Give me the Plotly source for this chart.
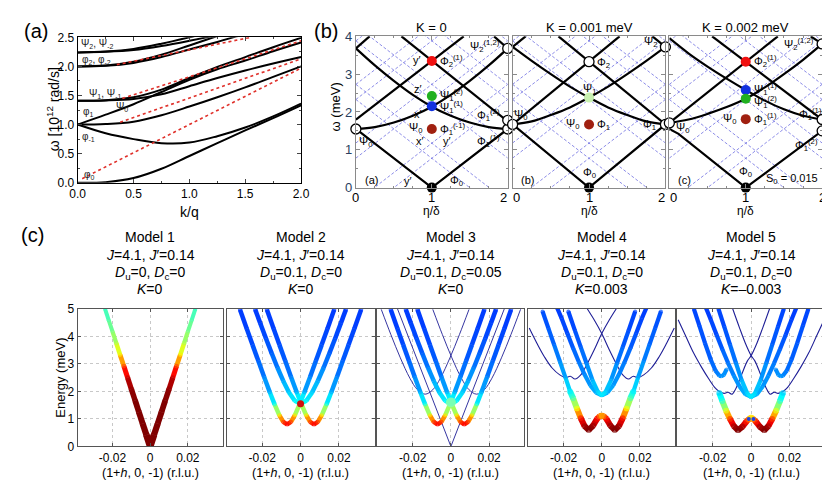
import plotly.graph_objects as go
from plotly.colors import sample_colorscale

W, H = 830, 494
FONT = "Liberation Sans, Arial, sans-serif"

# ====================== Panel (a) data ======================
a_k = [0, 0.25, 0.5, 0.75, 1.0, 1.25, 1.5, 1.75, 2.0]
a_phi0 = [0, 0.01, 0.08, 0.24, 0.46, 0.68, 0.9, 1.11, 1.33]
a_phim1 = [1.0, 0.85, 0.75, 0.68, 0.69, 0.8, 0.95, 1.14, 1.36]
a_psi0 = [1.0, 1.01, 1.05, 1.16, 1.31, 1.47, 1.64, 1.82, 2.0]
a_phi1 = [1.0, 1.17, 1.35, 1.56, 1.77, 1.95, 2.1, 2.26, 2.41]
a_psi1 = [1.41, 1.42, 1.47, 1.6, 1.8, 1.99, 2.16, 2.33, 2.49]
a_psim1 = [1.41, 1.415, 1.44, 1.52, 1.66, 1.8, 1.93, 2.05, 2.16]
a_phi2 = [2.0, 2.01, 2.06, 2.16, 2.29, 2.42, 2.56, 2.7, 2.85]
a_phim2 = [2.0, 2.015, 2.08, 2.2, 2.36, 2.52, 2.68, 2.84, 3.0]
a_psi2 = [2.24, 2.25, 2.28, 2.35, 2.44, 2.54, 2.65, 2.77, 2.9]
a_psim2 = [2.24, 2.255, 2.3, 2.39, 2.5, 2.62, 2.75, 2.88, 3.0]
a_curves = [a_phi0, a_phim1, a_psi0, a_phi1, a_psi1, a_psim1, a_phi2, a_phim2, a_psi2, a_psim2]
a_dot_k = [[0.04, 2.0], [0.38, 2.0], [0.4, 2.0], [0.35, 1.55]]
a_dot_w = [[0.07, 1.97], [1.04, 2.13], [1.45, 2.44], [2.03, 2.5]]
a_labels = [("Ψ<sub>2</sub>, Ψ<sub>-2</sub>", 0.18, 2.39), ("φ<sub>2</sub>, φ<sub>-2</sub>", 0.17, 2.11),
            ("Ψ<sub>1</sub>, Ψ<sub>-1</sub>", 0.25, 1.53), ("φ<sub>1</sub>", 0.09, 1.22),
            ("Ψ<sub>0</sub>", 0.4, 1.31), ("φ<sub>-1</sub>", 0.1, 0.79), ("φ<sub>0</sub>", 0.1, 0.14)]

# ====================== Panel (b) data ======================
b_eta9 = [0, 0.25, 0.5, 0.75, 1, 1.25, 1.5, 1.75, 2]
b_xticks = [0, 1, 2]
# subpanel 1 (K = 0)
b1_lines = [
    ([0, 1, 2], [1.55, 0, 1.55]),
    (b_eta9, [1.55, 1.6, 1.72, 1.9, 2.14, 2.45, 2.82, 3.23, 3.68]),
    (b_eta9, [3.68, 3.23, 2.82, 2.45, 2.14, 1.9, 1.72, 1.6, 1.55]),
    ([0, 1.42], [1.8, 4.0]), ([2, 0.6], [1.75, 4.0]),
    ([0, 0.18], [3.68, 4.0]), ([2, 1.82], [3.68, 4.0])]
b1_dots = [(1, 3.35, "#f01010"), (1, 2.42, "#20b020"), (1, 2.15, "#1030e0"), (1, 1.55, "#a02010"), (1, 0.0, "#000000")]
b1_open = [(0, 1.55), (2, 1.55), (2, 1.78), (2, 3.68)]
b1_labels = [("y′", 0.89, 3.38, "right"), ("Φ<sub>2</sub><sup>(1)</sup>", 1.08, 3.36, "left"),
             ("z′", 0.9, 2.62, "right"), ("Ψ<sub>1</sub><sup>(2)</sup>", 1.08, 2.45, "left"),
             ("x′", 0.9, 1.95, "right"), ("Ψ<sub>1</sub><sup>(1)</sup>", 1.08, 2.12, "left"),
             ("Ψ<sub>0</sub>", 0.9, 1.58, "right"), ("Φ<sub>1</sub><sup>(-1)</sup>", 1.08, 1.56, "left"),
             ("x′", 0.93, 1.22, "right"), ("y′", 1.2, 1.22, "center"), ("Ψ<sub>0</sub>", 0.12, 1.2, "center"),
             ("Φ<sub>1</sub><sup>(1)</sup>", 1.75, 1.24, "center"), ("Φ<sub>1</sub><sup>(2)</sup>", 1.75, 1.92, "center"),
             ("Ψ<sub>2</sub><sup>(1,2)</sup>", 1.92, 3.75, "right"), ("(a)", 0.2, 0.2, "center"),
             ("y′", 0.68, 0.18, "center"), ("Φ<sub>0</sub>", 1.32, 0.18, "center")]
# subpanel 2 (K = 0.001 meV)
b2_lines = [
    ([0, 1, 2], [1.67, 0, 1.67]),
    (b_eta9, [1.67, 1.75, 1.92, 2.12, 2.38, 2.67, 3.0, 3.35, 3.72]),
    (b_eta9, [3.72, 3.35, 3.0, 2.67, 2.38, 2.12, 1.92, 1.75, 1.67]),
    ([0, 1.4], [1.67, 4.0]), ([2, 0.6], [1.67, 4.0]),
    ([0, 0.17], [3.72, 4.0]), ([2, 1.83], [3.72, 4.0])]
b2_dots = [(1, 2.38, "#c8f0b0"), (1, 1.67, "#a02010"), (1, 0.0, "#000000")]
b2_open = [(0, 1.67), (2, 1.67), (1, 3.33), (2, 3.72)]
b2_labels = [("Ψ<sub>0</sub>", 0.1, 1.92, "center"), ("Φ<sub>2</sub>", 1.08, 3.3, "left"),
             ("Ψ<sub>1</sub>", 1.0, 2.62, "center"), ("Ψ<sub>0</sub>", 0.9, 1.68, "right"),
             ("Φ<sub>1</sub>", 1.08, 1.66, "left"), ("Φ<sub>1</sub>", 1.9, 1.66, "right"),
             ("Ψ<sub>2</sub>", 1.92, 3.85, "right"), ("Φ<sub>0</sub>", 1.0, 0.38, "center"),
             ("(b)", 0.2, 0.2, "center")]
# subpanel 3 (K = 0.002 meV)
b3_lines = [
    ([0, 0.12, 1, 2], [1.55, 1.42, 0, 1.5]),
    (b_eta9, [1.71, 1.8, 1.95, 2.13, 2.35, 2.65, 3.0, 3.38, 3.8]),
    (b_eta9, [3.95, 3.55, 3.2, 2.88, 2.58, 2.3, 2.07, 1.9, 1.8]),
    ([0, 1.42], [1.71, 4.0]), ([2, 0.56], [1.8, 4.0]),
    ([2, 1.85], [3.8, 4.0])]
b3_dots = [(1, 3.33, "#f01010"), (1, 2.58, "#1030e0"), (1, 2.35, "#20b020"), (1, 1.81, "#a02010"), (1, 0.0, "#000000")]
b3_open = [(0, 1.71), (2, 1.8), (2, 1.5), (2, 3.8)]
b3_labels = [("Ψ<sub>2</sub><sup>(1,2)</sup>", 1.92, 3.8, "right"), ("Φ<sub>2</sub><sup>(1)</sup>", 1.08, 3.36, "left"),
             ("Ψ<sub>1</sub><sup>(1)</sup>", 1.08, 2.62, "left"), ("Ψ<sub>1</sub><sup>(2)</sup>", 1.08, 2.27, "left"),
             ("Ψ<sub>0</sub>", 0.9, 1.82, "right"), ("Φ<sub>1</sub><sup>(1)</sup>", 1.08, 1.82, "left"),
             ("Ψ<sub>0</sub>", 0.17, 1.58, "center"), ("Φ<sub>1</sub><sup>(1)</sup>", 1.85, 1.94, "center"),
             ("Φ<sub>1</sub><sup>(2)</sup>", 1.8, 1.12, "center"), ("Φ<sub>0</sub>", 1.0, 0.42, "center"),
             ("(c)", 0.2, 0.2, "center"), ("S<sub>0</sub> = 0.015", 1.6, 0.22, "center")]
# blue dashed (unperturbed folded branches), endpoints [eta0, w0, eta1, w1]
b_dashed = [[0, -0.78, 2, 2.33], [0, 0.78, 2, 3.88], [0, 2.33, 2, 5.43], [0, 3.88, 2, 6.98],
            [0, 2.33, 2, -0.78], [0, 3.88, 2, 0.78], [0, 5.43, 2, 2.33], [0, 6.98, 2, 3.88],
            [0, -0.38, 2, 2.73], [0, 1.18, 2, 4.28], [0, 2.73, 2, 5.83],
            [0, 2.73, 2, -0.38], [0, 4.28, 2, 1.18], [0, 5.83, 2, 2.73]]
b_titles = ["K = 0", "K = 0.001 meV", "K = 0.002 meV"]

# ====================== Panel (c) data ======================
m1_x = [0, 0.002, 0.004, 0.006, 0.008, 0.010, 0.012, 0.014, 0.016, 0.018, 0.020, 0.022, 0.024]
m1_E = [0, 0.42, 0.83, 1.25, 1.67, 2.08, 2.5, 2.92, 3.33, 3.75, 4.17, 4.58, 5.0]
m1_v = [1, 1, 1, 1, 1, 0.98, 0.93, 0.8, 0.64, 0.55, 0.5, 0.46, 0.43]
m1_w = [7, 6.5, 6, 6, 5.5, 5.5, 5, 5, 4.5, 4.5, 4, 4, 4]

m2_well_x = [-0.0315, -0.028, -0.025, -0.022, -0.019, -0.016, -0.0135, -0.011, -0.009, -0.007,
             -0.005, -0.003, -0.0005, 0.002, 0.005, 0.008, 0.011, 0.014, 0.0175]
m2_well_E = [4.97, 4.28, 3.69, 3.11, 2.53, 1.97, 1.53, 1.13, 0.89, 0.8, 0.89, 1.13, 1.53, 1.97, 2.53, 3.11, 3.69, 4.28, 4.97]
m2_well_v = [0.18, 0.19, 0.2, 0.22, 0.25, 0.3, 0.4, 0.65, 0.82, 0.87, 0.82, 0.65, 0.42, 0.3, 0.25, 0.22, 0.2, 0.19, 0.18]
m2_c_x = [0, 0.003, 0.006, 0.009, 0.012, 0.015, 0.018, 0.021, 0.0236]
m2_c_E = [1.55, 1.66, 1.96, 2.38, 2.86, 3.38, 3.92, 4.48, 4.97]
m2_c_v = [0.4, 0.37, 0.33, 0.29, 0.25, 0.22, 0.2, 0.19, 0.18]

m3_well_x, m3_well_E, m3_well_v = m2_well_x, m2_well_E, m2_well_v
m3_c_x, m3_c_E, m3_c_v = m2_c_x, m2_c_E, m2_c_v
m3_thinV_x = [-0.028, 0, 0.028]
m3_thinV_E = [5.0, 0, 5.0]
m3_thinL_x = [-0.0365, -0.0315, -0.0265, -0.0215, -0.0175, -0.0135, -0.0095, -0.0055, -0.0005, 0.0045, 0.0095]
m3_thinL_E = [4.98, 4.07, 3.22, 2.48, 2.06, 1.9, 2.06, 2.48, 3.22, 4.07, 4.98]

m4_well_x = [-0.0166, -0.015, -0.013, -0.011, -0.009, -0.0068, -0.0045, -0.0025, -0.001, 0]
m4_well_E = [2.0, 1.75, 1.38, 1.03, 0.74, 0.6, 0.76, 1.0, 1.1, 1.12]
m4_well_v = [0.36, 0.45, 0.62, 0.85, 0.97, 1.0, 0.97, 0.87, 0.76, 0.72]
m4_out_x = [-0.0166, -0.019, -0.022, -0.025, -0.028, -0.031]
m4_out_E = [2.0, 2.5, 3.1, 3.7, 4.3, 4.9]
m4_out_v = [0.36, 0.3, 0.26, 0.23, 0.21, 0.2]
m4_U_x = [0, 0.002, 0.005, 0.008, 0.011, 0.014, 0.0175]
m4_U_E = [1.86, 1.98, 2.43, 3.02, 3.61, 4.2, 4.9]
m4_U_v = [0.36, 0.34, 0.29, 0.25, 0.22, 0.2, 0.19]
m4_c_x = [0, 0.003, 0.006, 0.009, 0.012, 0.015, 0.018, 0.021, 0.0235]
m4_c_E = [1.86, 1.96, 2.22, 2.61, 3.07, 3.57, 4.1, 4.65, 5.05]
m4_c_v = [0.3, 0.3, 0.28, 0.26, 0.24, 0.22, 0.2, 0.19, 0.18]
m4_thinL_x = [-0.038, -0.034, -0.030, -0.026, -0.022, -0.019, -0.0165, -0.014, -0.011, -0.008, -0.004, 0, 0.004, 0.0076]
m4_thinL_E = [4.3, 3.75, 3.25, 2.85, 2.6, 2.5, 2.55, 2.45, 2.6, 2.95, 3.5, 4.1, 4.6, 5.0]
m4_thinA_x = [-0.0166, -0.0175, -0.019]
m4_thinA_E = [2.0, 2.2, 2.5]

m5_well_x = [-0.0166, -0.015, -0.013, -0.011, -0.009, -0.0068, -0.0045, -0.0025, -0.001, 0]
m5_well_E = [1.95, 1.65, 1.3, 1.0, 0.74, 0.59, 0.72, 0.9, 1.0, 1.05]
m5_well_v = [0.33, 0.42, 0.6, 0.82, 0.96, 1.0, 0.96, 0.85, 0.72, 0.65]
m5_side_x = [-0.0298, -0.027, -0.024, -0.021, -0.0185, -0.0165, -0.0155, -0.0142, -0.0128]
m5_side_E = [5.0, 4.4, 3.75, 3.15, 2.75, 2.57, 2.55, 2.6, 2.8]
m5_side_v = [0.19, 0.2, 0.21, 0.22, 0.24, 0.26, 0.27, 0.27, 0.26]
m5_U_x = [0, 0.002, 0.005, 0.008, 0.011, 0.014, 0.017]
m5_U_E = [1.8, 1.93, 2.42, 3.05, 3.7, 4.35, 5.0]
m5_U_v = [0.36, 0.34, 0.29, 0.25, 0.22, 0.2, 0.19]
m5_c_x = [0, 0.003, 0.006, 0.009, 0.012, 0.015, 0.018, 0.021, 0.0236]
m5_c_E = [1.8, 1.9, 2.18, 2.57, 3.03, 3.53, 4.06, 4.6, 5.05]
m5_c_v = [0.3, 0.3, 0.28, 0.26, 0.24, 0.22, 0.2, 0.19, 0.18]
m5_thinL_x = [-0.038, -0.034, -0.030, -0.026, -0.022, -0.019, -0.0166, -0.014, -0.012, -0.010, -0.008, -0.005, -0.002, 0, 0.003, 0.006, 0.0096]
m5_thinL_E = [4.6, 4.0, 3.4, 2.9, 2.45, 2.15, 2.0, 1.93, 1.97, 1.9, 2.1, 2.6, 3.1, 3.3, 3.75, 4.3, 5.0]

c_titles = [("Model 1", "<i>J</i>=4.1, <i>J</i>′=0.14", "<i>D</i><sub>u</sub>=0, <i>D</i><sub>c</sub>=0", "<i>K</i>=0"),
            ("Model 2", "<i>J</i>=4.1, <i>J</i>′=0.14", "<i>D</i><sub>u</sub>=0.1, <i>D</i><sub>c</sub>=0", "<i>K</i>=0"),
            ("Model 3", "<i>J</i>=4.1, <i>J</i>′=0.14", "<i>D</i><sub>u</sub>=0.1, <i>D</i><sub>c</sub>=0.05", "<i>K</i>=0"),
            ("Model 4", "<i>J</i>=4.1, <i>J</i>′=0.14", "<i>D</i><sub>u</sub>=0.1, <i>D</i><sub>c</sub>=0", "<i>K</i>=0.003"),
            ("Model 5", "<i>J</i>=4.1, <i>J</i>′=0.14", "<i>D</i><sub>u</sub>=0.1, <i>D</i><sub>c</sub>=0", "<i>K</i>=–0.003")]

# ====================== helpers ======================
def dom_x(a, b):
    return [a / W, b / W]

def dom_y(t, b):
    return [1 - b / H, 1 - t / H]

JET = [[0, 'rgb(0,0,128)'], [0.125, 'rgb(0,0,255)'], [0.375, 'rgb(0,255,255)'],
       [0.625, 'rgb(255,255,0)'], [0.875, 'rgb(255,0,0)'], [1, 'rgb(128,0,0)']]

def jet(v):
    return sample_colorscale(JET, [min(max(v, 0), 1)])[0]

def flip(xs):
    return [-x for x in xs]

def sym(xs, ys, vs):
    return ([-x for x in xs[::-1]] + xs[1:], ys[::-1] + ys[1:], vs[::-1] + vs[1:])

fig = go.Figure()
annots = []

def ann(text, x, y, size=12, xref='paper', yref='paper', angle=0, xanchor='center', color='black'):
    if xref == 'paper':
        x = x / W
    if yref == 'paper':
        y = 1 - y / H
    annots.append(dict(text=text, x=x, y=y, xref=xref, yref=yref, showarrow=False, textangle=angle,
                       xanchor=xanchor, yanchor='middle', font=dict(size=size, family=FONT, color=color)))

def line(ax, xs, ys, color='black', width=2, dash=None, shape='linear'):
    fig.add_trace(go.Scatter(x=xs, y=ys, mode='lines', xaxis='x' + ax, yaxis='y' + ax,
                             line=dict(color=color, width=width, dash=dash, shape=shape),
                             hoverinfo='skip', showlegend=False))

def colored(ax, xs, ys, vs, ws):
    if not isinstance(ws, list):
        ws = [ws] * len(xs)
    for i in range(len(xs) - 1):
        c = jet((vs[i] + vs[i + 1]) / 2)
        w = (ws[i] + ws[i + 1]) / 2
        line(ax, [xs[i], xs[i + 1]], [ys[i], ys[i + 1]], color=c, width=w)
    fig.add_trace(go.Scatter(x=xs, y=ys, mode='markers', xaxis='x' + ax, yaxis='y' + ax,
                             marker=dict(color=[jet(v) for v in vs], size=[w * 0.95 for w in ws], line=dict(width=0)),
                             hoverinfo='skip', showlegend=False))

# ====================== Panel (a) ======================
for cv in a_curves:
    line('', a_k, cv, width=2, shape='spline')
for ks, ws in zip(a_dot_k, a_dot_w):
    line('', ks, ws, color='#e0302a', width=1.6, dash='dot')
for t, k, w in a_labels:
    ann(t, k, w, size=10, xref='x', yref='y', color='#222')

# ====================== Panel (b) ======================
b_sets = [(b1_lines, b1_dots, b1_open, b1_labels), (b2_lines, b2_dots, b2_open, b2_labels),
          (b3_lines, b3_dots, b3_open, b3_labels)]
for i, (lines_, dots, opens, labels) in enumerate(b_sets):
    ax = str(i + 2)
    for d in b_dashed:
        line(ax, [d[0], d[2]], [d[1], d[3]], color='rgb(110,110,225)', width=0.8, dash='3px,2px')
    for xs, ys in lines_:
        line(ax, xs, ys, width=2.2, shape='spline' if len(xs) > 4 else 'linear')
    fig.add_trace(go.Scatter(x=[d[0] for d in dots], y=[d[1] for d in dots], mode='markers',
                             xaxis='x' + ax, yaxis='y' + ax, hoverinfo='skip', showlegend=False,
                             marker=dict(size=10, color=[d[2] for d in dots], line=dict(width=0)), cliponaxis=False))
    fig.add_trace(go.Scatter(x=[o[0] for o in opens], y=[o[1] for o in opens], mode='markers',
                             xaxis='x' + ax, yaxis='y' + ax, hoverinfo='skip', showlegend=False,
                             marker=dict(size=10, color='white', line=dict(width=1.3, color='black')), cliponaxis=False))
    for t, x, y, anc in labels:
        ann(t, x, y, size=11, xref='x' + ax, yref='y' + ax, xanchor=anc)

# ====================== Panel (c) ======================
THIN = 'rgb(30,30,150)'
TW = 4.5
# Model 1
x, e, v = sym(m1_x, m1_E, m1_v)
colored('5', x, e, v, m1_w[::-1] + m1_w[1:])
# Model 2
colored('6', m2_well_x, m2_well_E, m2_well_v, TW)
colored('6', flip(m2_well_x), m2_well_E, m2_well_v, TW)
x, e, v = sym(m2_c_x, m2_c_E, m2_c_v)
colored('6', x, e, v, TW)
fig.add_trace(go.Scatter(x=[0], y=[1.55], mode='markers', xaxis='x6', yaxis='y6', hoverinfo='skip',
                         showlegend=False, marker=dict(size=7, color='#d01010')))
# Model 3
line('7', m3_thinV_x, m3_thinV_E, color=THIN, width=0.9)
line('7', m3_thinL_x, m3_thinL_E, color=THIN, width=0.9, shape='spline')
line('7', flip(m3_thinL_x), m3_thinL_E, color=THIN, width=0.9, shape='spline')
colored('7', m3_well_x, m3_well_E, m3_well_v, TW)
colored('7', flip(m3_well_x), m3_well_E, m3_well_v, TW)
x, e, v = sym(m3_c_x, m3_c_E, m3_c_v)
colored('7', x, e, v, TW)
fig.add_trace(go.Scatter(x=[0], y=[1.6], mode='markers', xaxis='x7', yaxis='y7', hoverinfo='skip',
                         showlegend=False, marker=dict(size=10, color='rgba(140,255,170,0.85)')))
# Model 4
for xs in (m4_thinL_x, flip(m4_thinL_x)):
    line('8', xs, m4_thinL_E, color=THIN, width=1.1, shape='spline')
for xs in (m4_thinA_x, flip(m4_thinA_x)):
    line('8', xs, m4_thinA_E, color=THIN, width=1.1)
x, e, v = sym(m4_c_x, m4_c_E, m4_c_v)
colored('8', x, e, v, 4.2)
for xs in (m4_out_x, flip(m4_out_x)):
    colored('8', xs, m4_out_E, m4_out_v, 4.2)
x, e, v = sym(m4_U_x, m4_U_E, m4_U_v)
colored('8', x, e, v, 4.2)
for xs in (m4_well_x, flip(m4_well_x)):
    colored('8', xs, m4_well_E, m4_well_v, 6)
# Model 5
for xs in (m5_thinL_x, flip(m5_thinL_x)):
    line('9', xs, m5_thinL_E, color=THIN, width=1.1, shape='spline')
x, e, v = sym(m5_c_x, m5_c_E, m5_c_v)
colored('9', x, e, v, 4.2)
for xs in (m5_side_x, flip(m5_side_x)):
    colored('9', xs, m5_side_E, m5_side_v, 4.2)
x, e, v = sym(m5_U_x, m5_U_E, m5_U_v)
colored('9', x, e, v, 4.2)
for xs in (m5_well_x, flip(m5_well_x)):
    colored('9', xs, m5_well_E, m5_well_v, 6)
fig.add_trace(go.Scatter(x=[-0.0012, 0.0012], y=[1.0, 1.0], mode='markers', xaxis='x9', yaxis='y9',
                         hoverinfo='skip', showlegend=False, marker=dict(size=4, color='#2040e0')))

# ====================== Axes ======================
tickf = dict(size=12, family=FONT, color='black')
layout = dict(width=W, height=H, margin=dict(l=0, r=0, t=0, b=0), paper_bgcolor='white',
              plot_bgcolor='white', showlegend=False, font=dict(family=FONT))
layout['xaxis'] = dict(domain=dom_x(63, 291), range=[0, 2], anchor='y', showline=True, linecolor='black',
                       mirror='ticks', ticks='inside', ticklen=4, tick0=0, dtick=0.5, tickformat='.1f',
                       minor=dict(ticks='inside', ticklen=2, dtick=0.25), showgrid=False, zeroline=False, tickfont=tickf)
layout['yaxis'] = dict(domain=dom_y(23, 173), range=[0, 2.5], anchor='x', showline=True, linecolor='black',
                       mirror='ticks', ticks='inside', ticklen=4, tick0=0, dtick=0.5, tickformat='.1f',
                       minor=dict(ticks='inside', ticklen=2, dtick=0.25), showgrid=False, zeroline=False, tickfont=tickf)
b_x = [(347, 502), (507, 663), (667, 823)]
for i, (l, r) in enumerate(b_x):
    n = str(i + 2)
    layout['xaxis' + n] = dict(domain=dom_x(l, r), range=[0, 2], anchor='y' + n, showline=True, linecolor='#8a8a8a',
                               mirror='ticks', ticks='inside', ticklen=4, tickcolor='#8a8a8a', dtick=1,
                               minor=dict(ticks='inside', ticklen=2, dtick=0.25, tickcolor='#8a8a8a'),
                               showticklabels=False, showgrid=False, zeroline=False)
    layout['yaxis' + n] = dict(domain=dom_y(22, 178), range=[0, 4], anchor='x' + n, showline=True, linecolor='#8a8a8a',
                               mirror='ticks', ticks='inside', ticklen=4, tickcolor='#8a8a8a', dtick=1,
                               minor=dict(ticks='inside', ticklen=2, dtick=0.5, tickcolor='#8a8a8a'),
                               showticklabels=(i == 0), showgrid=False, zeroline=False, tickfont=dict(size=13, family=FONT))
    # x tick labels of the eta axis (0, 1, 2), nudged so adjacent "2" and "0" do not collide
    for tv in b_xticks:
        px = l + (r - l) * tv / 2
        if tv == 0 and i > 0:
            px += 4
        if tv == 2 and i < 2:
            px -= 4
        ann(str(tv), px, 188, size=13)
    ann(b_titles[i], (l + r) / 2, 13, size=13)
    ann("η/δ", (l + r) / 2, 202, size=12)
c_x = [(63, 211), (215, 366), (369, 519), (523, 673), (675, 826)]
for i, (l, r) in enumerate(c_x):
    n = str(i + 5)
    layout['xaxis' + n] = dict(domain=dom_x(l, r), range=[-0.0385, 0.0385], anchor='y' + n, showline=True,
                               linecolor='#555', mirror='ticks', ticks='inside', ticklen=3, tickcolor='#555',
                               tickvals=[-0.02, 0, 0.02], ticktext=['-0.02', '0', '0.02'], showgrid=True,
                               gridcolor='#c8c8c8', griddash='dot', gridwidth=1, zeroline=False, tickfont=tickf)
    layout['yaxis' + n] = dict(domain=dom_y(303, 445), range=[0, 5], anchor='x' + n, showline=True,
                               linecolor='#555', mirror='ticks', ticks='inside', ticklen=3, tickcolor='#555',
                               dtick=1, showticklabels=(i == 0), showgrid=True, gridcolor='#c8c8c8',
                               griddash='dot', gridwidth=1, zeroline=False, tickfont=tickf)
    cx = (l + r) / 2
    t1, t2, t3, t4 = c_titles[i]
    ann(t1, cx, 229, size=14)
    ann(t2, cx, 248, size=14)
    ann(t3, cx, 266, size=14)
    ann(t4, cx, 283, size=14)
    ann("(1+<i>h</i>, 0, -1) (r.l.u.)", cx, 472, size=12.5)

# panel letters and axis titles
ann("(a)", 20, 17, size=20)
ann("(b)", 316, 17, size=20)
ann("(c)", 17, 227, size=20)
ann("ω [10<sup>12</sup> rad/s]", 38, 97, size=14, angle=-90)
ann("k/q", 177, 203, size=14)
ann("ω (meV)", 326, 95, size=13, angle=-90)
ann("Energy (meV)", 46, 374, size=13, angle=-90)

layout['annotations'] = annots
fig.update_layout(**layout)
fig.write_html("out.html")
